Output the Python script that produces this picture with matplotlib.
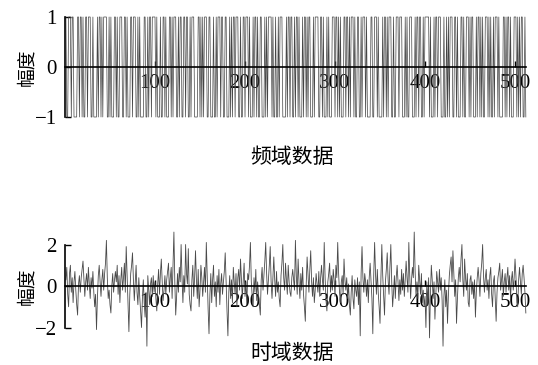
import matplotlib.pyplot as plt

# 频域数据: +1 / -1 sequence, 512 samples, 8 per group
freq_rows = [
    "+--+++-+ +----++- ++-+--++ -+++--+- ---+-++- +-++++-- +-+---++ -+--+++-",
    "-++-+--- ++-+++-- +-+----+ +--+-++- ++++-+-- -+--++-+ ---++-+- +++--+-+",
    "+--++-++ --+-+++- ---++-+- +-+++--+ +---+--+ -+++-++- -++---+- +-++-+++",
    "--+--++- +++-+--- +-++-+-- ++---+-+ -++++-+- -+--+-++ +----+-+ +-++--+-",
    "++-+---+ -++-+-++ ---+-+++ +--++-+- --+-+--- +++-++-+ -+---++- ++-+-+++",
    "-+--++-- +-+++-+- ---++--+ ++-+---- +-++-+-+ ++--+--+ ++-+++-- -+-+--++",
    "+---+-++ -++--+-+ ++++-+-- -+-++-++ +---+--+ -+-+++-- ++-+---+ +-+--+++",
    "-+-++--- +-++-+-+ --+++-+- +--+-+++ -+----++ -+-++-+- --+++-+- +-++--+-",
]

# 时域数据: 512 samples
time_vals = [
    0.3, 0.9, -0.4, -1.0, 0.6, 1.0, -0.3, 0.4, -0.8, 0.2, 0.7, -0.2, -0.9, -1.4, 0.1, 0.5,
    -0.3, 0.4, 0.8, 1.2, 0.3, -0.5, 0.2, 0.6, -0.2, 0.9, 0.1, -0.6, 0.4, -0.1, 0.7, -0.3,
    -1.0, -0.4, -2.1, -0.6, 0.5, 1.0, 0.2, -0.5, 0.3, 0.8, -0.2, 0.6, 1.1, 2.2, 0.4, -0.6,
    -0.2, -0.9, -1.3, 0.0, 0.6, -0.3, 0.3, 0.7, 0.2, 1.0, -0.4, 0.5, -0.8, 0.3, 0.9, -0.2,
    0.4, 1.1, -0.3, 1.9, 0.5, -1.0, -2.2, -0.4, 0.6, 1.0, 1.6, 0.3, -0.7, 0.2, 1.0, -0.3,
    -0.9, 0.4, -0.5, -1.2, -2.0, -0.6, 0.3, -0.8, -1.5, -0.3, -2.9, 0.5, -0.2, -0.9, 0.1, 0.4,
    -0.5, 0.5, -0.3, 0.2, -0.6, -1.2, 0.1, 0.8, -0.4, 0.6, 1.3, 0.2, -0.7, -0.2, 0.5, -0.4,
    0.3, 0.7, 1.1, -0.3, 0.4, 0.9, -0.6, 1.0, 2.6, 0.2, -1.4, -0.5, 0.6, -0.3, 0.9, 0.2,
    2.0, 0.4, -0.8, 0.5, -0.3, 2.0, 0.6, 0.1, 1.8, -0.4, -0.9, -1.2, 0.3, 1.0, -0.5, 0.4,
    1.7, 0.3, -0.6, 0.8, -1.0, -0.2, 1.0, 0.4, -0.5, 0.2, 0.9, -0.3, 2.1, 0.5, -1.1, -2.3,
    -0.4, 0.6, -0.8, 0.3, 1.0, -0.5, 0.2, -1.0, 0.5, -0.3, 0.8, -0.9, 0.1, 0.6, -0.4, 0.2,
    0.7, 1.6, 0.2, -1.2, -2.4, -0.3, 0.5, -0.6, 0.3, -0.8, 0.9, 0.2, -0.4, 0.6, -1.0, 0.4,
    0.8, -0.2, 1.3, 0.4, -0.6, 0.3, 1.1, -0.5, 0.2, -0.9, 0.6, 0.3, 1.0, 2.1, 0.2, -0.5,
    -1.0, 0.4, -0.3, 0.8, -0.7, 0.2, -0.4, -0.9, -1.4, 0.3, 0.9, -0.2, 0.5, 1.2, 2.1, 0.6,
    -0.4, 0.3, 1.0, 1.9, 0.2, -0.6, 0.4, 1.4, 0.3, -0.5, 0.7, -0.3, 0.2, -0.6, -1.0, 0.5,
    1.1, 2.0, 0.4, -0.2, 1.1, 0.3, -0.4, 1.0, 0.2, -0.3, -0.5, 0.4, 0.8, 0.3, -0.2, 2.2,
    0.5, -0.4, 1.3, 0.2, -0.6, 0.6, -0.2, 0.9, -0.4, -1.0, -1.7, 0.1, 1.4, 0.5, -0.3, 0.8,
    1.7, 0.2, -0.5, 0.4, -0.8, -0.2, 0.6, 0.1, -0.3, 0.7, -0.5, 0.4, 1.0, 0.3, -0.2, 2.1,
    0.4, -0.7, -1.2, 0.2, 0.6, 1.1, -0.3, 0.5, -0.2, 0.8, 0.3, -0.5, 1.0, 0.4, 2.1, 0.6,
    -0.3, -0.8, 0.2, 0.5, -0.4, 1.3, 0.3, -0.2, 0.4, -0.6, 0.1, -0.9, -1.4, -0.3, 0.5, -0.6,
    -1.1, 0.3, -0.2, -0.5, 0.4, -0.9, 0.2, -2.4, 0.6, 1.9, 0.4, -0.3, 0.6, 0.2, -0.5, 0.3,
    -0.8, 0.4, 1.1, 0.2, -0.6, -2.3, 0.5, 2.1, 0.6, -0.4, 0.8, -0.3, -1.0, -1.8, 0.4, 2.0,
    0.5, -0.5, -1.4, 0.2, 0.8, 1.6, 0.3, -0.4, 0.9, 2.0, 0.2, -1.0, -0.3, 0.5, -0.6, 0.4,
    1.0, 0.2, -0.7, 0.3, -0.4, 0.8, -0.2, 0.6, -0.5, 0.3, 1.2, 0.4, -0.3, 2.1, 0.5, -0.6,
    0.3, 0.9, 0.4, 2.6, 0.7, -0.5, 0.2, -0.6, 1.0, 0.3, -0.4, 0.6, -0.8, -0.2, -1.0, -0.5,
    -2.0, 0.2, -0.9, 0.4, -2.5, -0.4, 1.0, 0.3, -0.6, 0.2, -1.6, -0.4, 0.7, 0.2, -0.3, 0.8,
    -0.2, 0.4, -0.7, -2.9, -0.5, 0.3, -1.0, -0.2, -1.8, -0.4, 0.5, 1.0, 1.4, 0.2, 1.7, 0.6,
    -0.5, 0.3, -1.8, -0.6, 0.4, 0.9, 0.2, 1.3, 2.0, 0.3, -0.5, 1.3, 0.4, -0.2, 0.6, -0.8,
    -1.0, 0.3, 0.5, -0.4, 0.2, -0.6, 0.3, -1.5, -0.3, 0.4, 0.9, 0.3, -0.5, 0.6, 1.1, 2.0,
    0.5, -0.3, 0.4, 0.8, -0.2, 0.3, -0.6, 0.5, 0.9, -0.4, -1.0, 0.2, 0.5, -0.6, -1.7, -0.3,
    0.4, 0.7, 1.1, -0.2, 0.3, 0.8, -0.5, 0.2, 0.6, -0.3, 0.4, 0.9, -0.2, 0.5, -0.6, 0.3,
    0.7, -0.2, 0.4, 1.3, 0.5, -0.8, -1.0, 0.3, 0.9, 0.2, -0.4, 0.6, 1.0, 0.4, -0.3, -1.3,
]

x_ticks = [100, 200, 300, 400, 500]

freq_vals = [1 if c == '+' else -1 for c in ''.join(freq_rows).replace(' ', '')]
n = range(1, len(freq_vals) + 1)
t = range(1, len(time_vals) + 1)

W, H = 538, 365
fig = plt.figure(figsize=(W / 100, H / 100), dpi=100)
cjk = ['Noto Sans CJK SC', 'DejaVu Sans']
serif = 'Liberation Serif'


def style(ax, ybound, yticks):
    for s in ['top', 'right']:
        ax.spines[s].set_visible(False)
    ax.spines['bottom'].set_position(('data', 0))
    ax.spines['left'].set_bounds(*ybound)
    ax.spines['bottom'].set_bounds(0, 512)
    for s in ['left', 'bottom']:
        ax.spines[s].set_linewidth(1.2)
    ax.set_xticks(x_ticks)
    ax.set_yticks(yticks)
    ax.set_yticklabels(['\u2212' + str(-v) if v < 0 else str(v) for v in yticks])
    ax.tick_params(axis='x', direction='in', length=4, width=1, pad=5)
    ax.tick_params(axis='y', direction='in', length=4, width=1, pad=6)
    for lab in ax.get_xticklabels() + ax.get_yticklabels():
        lab.set_fontfamily(serif)
        lab.set_fontsize(15)
    ax.set_xlim(0, 513.3)
    ax.patch.set_alpha(0)


# top: frequency domain
ax1 = fig.add_axes([65 / W, 1 - 118 / H, 462 / W, 102 / H])
ax1.plot(n, freq_vals, color='#444444', lw=0.5)
ax1.set_ylim(-1.02, 1.02)
style(ax1, (-1, 1), [-1, 0, 1])

# bottom: time domain
ax2 = fig.add_axes([65 / W, 1 - 349.3 / H, 462 / W, 120.35 / H])
ax2.plot(t, time_vals, color='#4a4a4a', lw=0.6)
ax2.set_ylim(-3.05, 2.75)
style(ax2, (-2, 2), [-2, 0, 2])

fig.text(292 / W, 1 - 157 / H, '频域数据', family=cjk, fontsize=15,
         weight='medium', ha='center', va='center')
fig.text(292 / W, 1 - 353 / H, '时域数据', family=cjk, fontsize=15,
         weight='medium', ha='center', va='center')
fig.text(27 / W, 1 - 67 / H, '幅度', family=cjk, fontsize=13.5,
         weight='medium', ha='center', va='center', rotation=90)
fig.text(27 / W, 1 - 286 / H, '幅度', family=cjk, fontsize=13.5,
         weight='medium', ha='center', va='center', rotation=90)

fig.savefig('out.png', dpi=100)
